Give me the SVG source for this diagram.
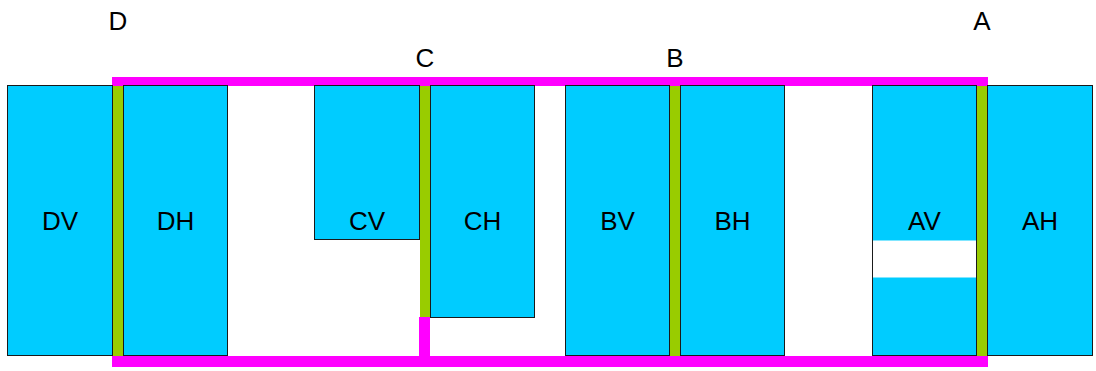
<svg xmlns="http://www.w3.org/2000/svg" width="1096" height="371" viewBox="0 0 1096 371">
  <style>
    .box { fill: #00CCFF; stroke: #1a1a1a; stroke-width: 1; }
    .lbl { font-family: "Liberation Sans", Arial, sans-serif; font-size: 26px; fill: #000; text-anchor: middle; }
    .seal { fill: #99CC00; }
    .rail { fill: #FF00FF; }
    .gap { fill: #FFFFFF; }
  </style>
  <rect width="1096" height="371" fill="#FFFFFF"/>

  <!-- frame rails and seals -->
  <g id="connectors">
    <rect class="rail" x="112" y="77" width="876" height="9"/>
    <rect class="rail" x="112" y="356" width="876" height="11"/>
    <rect class="rail" x="419" y="317" width="11" height="39"/>
    <rect class="seal" x="113" y="86" width="10" height="270"/>
    <rect class="seal" x="420" y="86" width="10" height="231"/>
    <rect class="seal" x="670" y="86" width="10" height="270"/>
    <rect class="seal" x="977" y="86" width="10" height="270"/>
  </g>

  <!-- section markers -->
  <g id="markers">
    <text class="lbl" x="118" y="30">D</text>
    <text class="lbl" x="425" y="67">C</text>
    <text class="lbl" x="675" y="67">B</text>
    <text class="lbl" x="982" y="30">A</text>
  </g>

  <g id="DV">
    <rect class="box" x="7.5" y="85.5" width="105" height="270"/>
    <text class="lbl" x="60" y="230">DV</text>
  </g>
  <g id="DH">
    <rect class="box" x="123.5" y="85.5" width="104" height="270"/>
    <text class="lbl" x="175.5" y="230">DH</text>
  </g>
  <g id="CV">
    <rect class="box" x="314.5" y="85.5" width="105" height="154"/>
    <text class="lbl" x="367" y="230">CV</text>
  </g>
  <g id="CH">
    <rect class="box" x="430.5" y="85.5" width="104" height="232"/>
    <text class="lbl" x="482.5" y="230">CH</text>
  </g>
  <g id="BV">
    <rect class="box" x="565.5" y="85.5" width="104" height="270"/>
    <text class="lbl" x="617.5" y="230">BV</text>
  </g>
  <g id="BH">
    <rect class="box" x="680.5" y="85.5" width="104" height="270"/>
    <text class="lbl" x="732.5" y="230">BH</text>
  </g>
  <g id="AV">
    <rect class="box" x="872.5" y="85.5" width="104" height="270"/>
    <rect class="gap" x="873" y="240.5" width="103" height="37"/>
    <text class="lbl" x="924.5" y="230">AV</text>
  </g>
  <g id="AH">
    <rect class="box" x="987.5" y="85.5" width="105" height="270"/>
    <text class="lbl" x="1040" y="230">AH</text>
  </g>
</svg>
